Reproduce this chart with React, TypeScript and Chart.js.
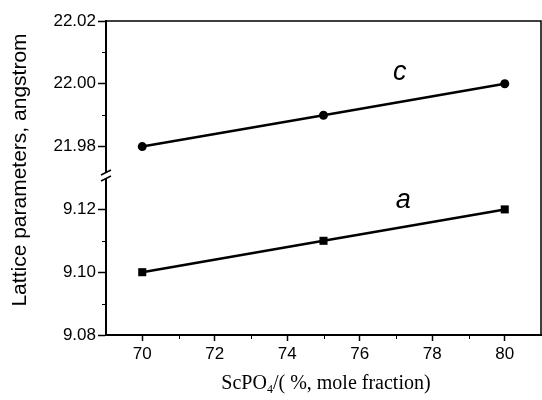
import React, { useEffect, useRef } from 'react';
import { Chart, registerables } from 'chart.js';

Chart.register(...registerables);

// ---- data ----
const xValues = [70, 75, 80];
const cValues = [21.98, 21.99, 22.0];
const aValues = [9.1, 9.11, 9.12];

const xRange = [69, 81];
const topRange = [21.97, 22.02];
const bottomRange = [9.08, 9.13];

const xTicks = [70, 72, 74, 76, 78, 80];
const xMinorTicks = [71, 73, 75, 77, 79];
const topTicks = [21.98, 22.0, 22.02];
const topMinorTicks = [21.99, 22.01];
const bottomTicks = [9.08, 9.1, 9.12];
const bottomMinorTicks = [9.09, 9.11];

const yTitle = 'Lattice parameters, angstrom';
const xTitleMain = 'ScPO';
const xTitleSub = '4';
const xTitleRest = '/( %, mole fraction)';

const labels = [
  { text: 'c', x: 77.1, y: 22.0035, axis: 'y2' },
  { text: 'a', x: 77.2, y: 9.1229, axis: 'y' },
];

const SANS = '"Liberation Sans", Arial, Helvetica, sans-serif';
const SERIF = '"Liberation Serif", "Times New Roman", serif';

const decorPlugin = {
  id: 'decor',
  afterDraw(chart: any) {
    const ctx = chart.ctx as CanvasRenderingContext2D;
    const { left, right, top, bottom } = chart.chartArea;
    const xs = chart.scales.x;
    const yb = chart.scales.y;
    const yt = chart.scales.y2;
    ctx.save();
    ctx.strokeStyle = '#000';
    ctx.fillStyle = '#000';

    // top and right frame
    ctx.lineWidth = 1.5;
    ctx.beginPath();
    ctx.moveTo(left, top);
    ctx.lineTo(right, top);
    ctx.lineTo(right, bottom);
    ctx.stroke();

    // minor ticks
    ctx.lineWidth = 1;
    ctx.beginPath();
    xMinorTicks.forEach((v) => {
      const px = Math.round(xs.getPixelForValue(v)) + 0.5;
      ctx.moveTo(px, bottom);
      ctx.lineTo(px, bottom + 4);
    });
    topMinorTicks.forEach((v) => {
      const py = Math.round(yt.getPixelForValue(v)) + 0.5;
      ctx.moveTo(left, py);
      ctx.lineTo(left - 4, py);
    });
    bottomMinorTicks.forEach((v) => {
      const py = Math.round(yb.getPixelForValue(v)) + 0.5;
      ctx.moveTo(left, py);
      ctx.lineTo(left - 4, py);
    });
    ctx.stroke();

    // axis break
    const by = yt.bottom - 2;
    ctx.fillStyle = '#fff';
    ctx.fillRect(left - 3, by - 3, 6, 6);
    ctx.lineWidth = 1.5;
    ctx.beginPath();
    ctx.moveTo(left - 5, by - 1);
    ctx.lineTo(left + 5, by - 6);
    ctx.moveTo(left - 5, by + 5);
    ctx.lineTo(left + 5, by);
    ctx.stroke();
    ctx.fillStyle = '#000';

    // y title
    ctx.save();
    ctx.translate(20, 170);
    ctx.rotate(-Math.PI / 2);
    ctx.font = `21px ${SANS}`;
    ctx.textAlign = 'center';
    ctx.textBaseline = 'middle';
    ctx.fillText(yTitle, 0, 0);
    ctx.restore();

    // x title
    ctx.font = `20px ${SERIF}`;
    ctx.textBaseline = 'alphabetic';
    ctx.textAlign = 'left';
    const subFont = `12px ${SERIF}`;
    const w1 = ctx.measureText(xTitleMain).width;
    const w3 = ctx.measureText(xTitleRest).width;
    ctx.font = subFont;
    const w2 = ctx.measureText(xTitleSub).width;
    const total = w1 + w2 + w3;
    const cx = 326;
    const base = 389;
    let sx = cx - total / 2;
    ctx.font = `20px ${SERIF}`;
    ctx.fillText(xTitleMain, sx, base);
    sx += w1;
    ctx.font = subFont;
    ctx.fillText(xTitleSub, sx, base + 4);
    sx += w2;
    ctx.font = `20px ${SERIF}`;
    ctx.fillText(xTitleRest, sx, base);

    // series labels
    ctx.font = `italic 27px ${SANS}`;
    ctx.textAlign = 'center';
    ctx.textBaseline = 'middle';
    labels.forEach((l) => {
      const sc = chart.scales[l.axis];
      ctx.fillText(l.text, xs.getPixelForValue(l.x), sc.getPixelForValue(l.y));
    });

    ctx.restore();
  },
};

const tickFont = { family: SANS, size: 17 };

function yScale(range: number[], ticks: number[]) {
  return {
    type: 'linear',
    position: 'left',
    stack: 'lattice',
    stackWeight: 1,
    min: range[0],
    max: range[1],
    afterBuildTicks: (scale: any) => {
      scale.ticks = ticks.map((v) => ({ value: v }));
    },
    afterFit: (scale: any) => {
      scale.width = 106;
      scale.paddingLeft = 0;
      scale.paddingRight = 0;
    },
    ticks: {
      color: '#000',
      font: tickFont,
      padding: 2,
      callback: (v: any) => Number(v).toFixed(2),
    },
    grid: {
      display: true,
      drawOnChartArea: false,
      drawTicks: true,
      tickLength: 8,
      tickColor: '#000',
      tickWidth: 1.5,
    },
    border: { display: true, color: '#000', width: 2 },
  };
}

export default function App() {
  const ref = useRef<HTMLCanvasElement | null>(null);

  useEffect(() => {
    if (!ref.current) return;
    const chart = new Chart(ref.current, {
      type: 'line',
      data: {
        datasets: [
          {
            label: 'c',
            data: xValues.map((x, i) => ({ x, y: cValues[i] })),
            yAxisID: 'y2',
            borderColor: '#000',
            backgroundColor: '#000',
            borderWidth: 2.5,
            pointStyle: 'circle',
            pointRadius: 4.5,
            pointBorderWidth: 0,
            tension: 0,
          },
          {
            label: 'a',
            data: xValues.map((x, i) => ({ x, y: aValues[i] })),
            yAxisID: 'y',
            borderColor: '#000',
            backgroundColor: '#000',
            borderWidth: 2.5,
            pointStyle: 'rect',
            pointRadius: 5.7,
            pointBorderWidth: 0,
            tension: 0,
          },
        ],
      },
      options: {
        animation: false,
        responsive: true,
        maintainAspectRatio: false,
        layout: { autoPadding: false, padding: { top: 21, right: 1, left: 0, bottom: 0 } },
        plugins: { legend: { display: false }, tooltip: { enabled: false } },
        scales: {
          x: {
            type: 'linear',
            min: xRange[0],
            max: xRange[1],
            afterBuildTicks: (scale: any) => {
              scale.ticks = xTicks.map((v) => ({ value: v }));
            },
            afterFit: (scale: any) => {
              scale.height = 65;
              scale.paddingLeft = 0;
              scale.paddingRight = 0;
            },
            ticks: { color: '#000', font: tickFont, padding: 3 },
            grid: {
              display: true,
              drawOnChartArea: false,
              drawTicks: true,
              tickLength: 6,
              tickColor: '#000',
              tickWidth: 1.5,
            },
            border: { display: true, color: '#000', width: 2 },
          },
          y: yScale(bottomRange, bottomTicks),
          y2: yScale(topRange, topTicks),
        } as any,
      },
      plugins: [decorPlugin],
    });
    return () => chart.destroy();
  }, []);

  return (
    <div style={{ position: 'absolute', left: 0, top: 0, width: 542, height: 400, background: '#fff' }}>
      <canvas ref={ref} />
    </div>
  );
}
